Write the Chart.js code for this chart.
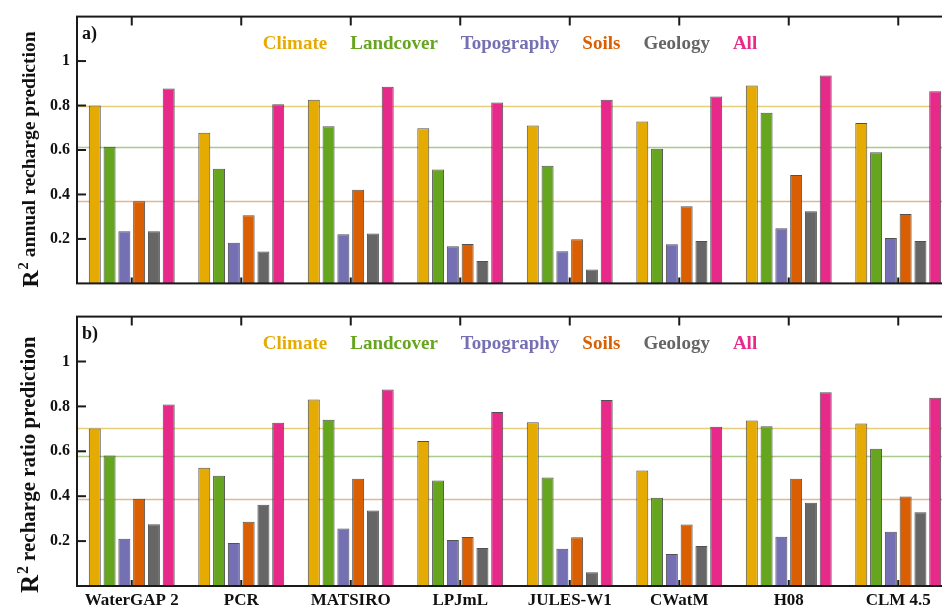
<!DOCTYPE html>
<html>
<head>
<meta charset="utf-8">
<script src="https://cdn.jsdelivr.net/npm/chart.js@4.4.1/dist/chart.umd.min.js"></script>
<style>
    html, body { margin: 0; padding: 0; background: #fff; overflow: hidden; }
    #wrap { width: 953px; }
    .panel { position: relative; width: 953px; }
    #panelA { height: 300px; }
    #panelB { height: 309px; }
</style>
</head>
<body>
<div id="wrap">
    <div class="panel" id="panelA"><canvas id="graficoA"></canvas></div>
    <div class="panel" id="panelB"><canvas id="graficoB"></canvas></div>
</div>
<script>
// modelos e preditores
const models = ['WaterGAP 2', 'PCR', 'MATSIRO', 'LPJmL', 'JULES-W1', 'CWatM', 'H08', 'CLM 4.5'];
const predictors = ['Climate', 'Landcover', 'Topography', 'Soils', 'Geology', 'All'];
const yTicks = [0.2, 0.4, 0.6, 0.8, 1];

// a) R2 annual recharge prediction
const annualClimate    = [0.80, 0.678, 0.826, 0.698, 0.710, 0.728, 0.890, 0.721];
const annualLandcover  = [0.615, 0.516, 0.707, 0.512, 0.529, 0.606, 0.768, 0.590];
const annualTopography = [0.234, 0.183, 0.221, 0.167, 0.145, 0.176, 0.248, 0.204];
const annualSoils      = [0.369, 0.307, 0.421, 0.177, 0.199, 0.347, 0.488, 0.312];
const annualGeology    = [0.234, 0.143, 0.225, 0.101, 0.062, 0.191, 0.325, 0.191];
const annualAll        = [0.877, 0.806, 0.884, 0.814, 0.826, 0.841, 0.935, 0.864];

// b) R2 recharge ratio prediction
const ratioClimate    = [0.702, 0.527, 0.831, 0.646, 0.729, 0.514, 0.737, 0.724];
const ratioLandcover  = [0.581, 0.491, 0.741, 0.470, 0.483, 0.393, 0.712, 0.611];
const ratioTopography = [0.210, 0.191, 0.256, 0.205, 0.166, 0.143, 0.219, 0.242];
const ratioSoils      = [0.389, 0.286, 0.478, 0.218, 0.217, 0.274, 0.478, 0.399];
const ratioGeology    = [0.275, 0.362, 0.336, 0.169, 0.061, 0.178, 0.371, 0.328];
const ratioAll        = [0.808, 0.727, 0.875, 0.775, 0.829, 0.709, 0.863, 0.838];

const colors = ['#E6AB02', '#66A61E', '#7570B3', '#D95F02', '#666666', '#E7298A'];
const SERIF = '"Liberation Serif", "Times New Roman", serif';

// linhas, rotulos e moldura desenhados por cima do grafico
const panelDecor = {
    id: 'panelDecor',
    beforeDatasetsDraw(chart, args, opts) {
        const ctx = chart.ctx;
        const area = chart.chartArea;
        const y = chart.scales.y;
        ctx.save();
        opts.refLevels.forEach((v, i) => {
            const py = Math.round(y.getPixelForValue(v)) + 0.5;
            ctx.strokeStyle = opts.refColors[i];
            ctx.lineWidth = 1.5;
            ctx.beginPath();
            ctx.moveTo(area.left, py);
            ctx.lineTo(area.right, py);
            ctx.stroke();
        });
        ctx.restore();
    },
    afterDraw(chart, args, opts) {
        const ctx = chart.ctx;
        const area = chart.chartArea;
        const x = chart.scales.x;
        const y = chart.scales.y;
        ctx.save();

        // moldura
        ctx.strokeStyle = '#1a1a1a';
        ctx.lineWidth = 2;
        ctx.strokeRect(area.left, area.top, area.right - area.left, area.bottom - area.top);

        // ticks para dentro
        ctx.lineWidth = 2;
        models.forEach((m, i) => {
            const px = x.getPixelForValue(i);
            ctx.beginPath();
            ctx.moveTo(px, area.top);
            ctx.lineTo(px, area.top + 9);
            ctx.moveTo(px, area.bottom);
            ctx.lineTo(px, area.bottom - 6);
            ctx.stroke();
        });
        yTicks.forEach((v) => {
            const py = y.getPixelForValue(v);
            ctx.beginPath();
            ctx.moveTo(area.left, py);
            ctx.lineTo(area.left + 9, py);
            ctx.stroke();
        });

        // letra do painel
        ctx.fillStyle = '#111';
        ctx.font = 'bold 18px ' + SERIF;
        ctx.textAlign = 'left';
        ctx.textBaseline = 'alphabetic';
        ctx.fillText(opts.letter, area.left + 5, area.top + 22);

        // legenda em texto colorido
        ctx.font = 'bold 19px ' + SERIF;
        const gap = 23;
        const widths = predictors.map((p) => ctx.measureText(p).width);
        const total = widths.reduce((a, b) => a + b, 0) + gap * (predictors.length - 1);
        let lx = (area.left + area.right) / 2 - total / 2 - 5;
        predictors.forEach((p, i) => {
            ctx.fillStyle = colors[i];
            ctx.fillText(p, lx, area.top + 32);
            lx += widths[i] + gap;
        });

        // titulo do eixo y com R²
        const fs = opts.titleSize;
        ctx.translate(30, area.bottom + opts.titleShift);
        ctx.rotate(-Math.PI / 2);
        ctx.fillStyle = '#111';
        ctx.textBaseline = 'middle';
        let tx = 0;
        ctx.font = 'bold ' + (fs + 4) + 'px ' + SERIF;
        ctx.fillText('R', tx, 2);
        tx += ctx.measureText('R').width;
        ctx.font = 'bold ' + (fs - 5) + 'px ' + SERIF;
        ctx.fillText('2', tx + 1, -6);
        tx += ctx.measureText('2').width + 6;
        ctx.font = 'bold ' + fs + 'px ' + SERIF;
        ctx.fillText(opts.title, tx, 0);
        ctx.restore();
    }
};

function montarDatasets(series) {
    return predictors.map((p, i) => ({
        label: p,
        data: series[i],
        backgroundColor: colors[i],
        borderColor: 'rgba(50,50,50,0.85)',
        borderWidth: 1,
        borderSkipped: 'bottom',
        categoryPercentage: 0.81,
        barPercentage: 0.81
    }));
}

function criarPainel(canvasId, series, cfg) {
    const ctx = document.getElementById(canvasId).getContext('2d');
    return new Chart(ctx, {
        type: 'bar',
        data: {
            labels: models,
            datasets: montarDatasets(series)
        },
        options: {
            responsive: true,
            maintainAspectRatio: false,
            animation: false,
            layout: { padding: { top: cfg.padTop, left: 0, right: 0, bottom: 0 } },
            scales: {
                x: {
                    grid: { display: false, drawTicks: false },
                    border: { display: false },
                    ticks: {
                        display: cfg.showLabels,
                        color: '#111',
                        padding: 4,
                        maxRotation: 0,
                        font: { family: SERIF, size: 17, weight: 'bold' }
                    },
                    afterFit: (scale) => { scale.height = cfg.xHeight; }
                },
                y: {
                    min: 0,
                    max: 1.2,
                    grid: { display: false, drawTicks: false },
                    border: { display: false },
                    ticks: {
                        stepSize: 0.2,
                        color: '#111',
                        padding: 7,
                        font: { family: SERIF, size: 16, weight: 'bold' },
                        callback: (v) => (yTicks.some((t) => Math.abs(t - v) < 1e-6) ? String(Math.round(v * 10) / 10) : '')
                    },
                    afterFit: (scale) => { scale.width = 77; }
                }
            },
            plugins: {
                legend: { display: false },
                tooltip: { enabled: false },
                panelDecor: {
                    letter: cfg.letter,
                    title: cfg.title,
                    titleSize: cfg.titleSize,
                    titleShift: cfg.titleShift,
                    refLevels: [series[0][0], series[1][0], series[3][0]],
                    refColors: ['rgba(222,190,80,0.75)', 'rgba(140,185,100,0.75)', 'rgba(215,160,110,0.75)']
                }
            }
        },
        plugins: [panelDecor]
    });
}

document.addEventListener('DOMContentLoaded', function () {
    criarPainel('graficoA',
        [annualClimate, annualLandcover, annualTopography, annualSoils, annualGeology, annualAll],
        { letter: 'a)', title: 'annual recharge prediction', titleSize: 19.5, padTop: 13, xHeight: 12, showLabels: false, titleShift: 4 });
    criarPainel('graficoB',
        [ratioClimate, ratioLandcover, ratioTopography, ratioSoils, ratioGeology, ratioAll],
        { letter: 'b)', title: 'recharge ratio prediction', titleSize: 21, padTop: 10, xHeight: 23, showLabels: true, titleShift: 7 });
});
</script>
</body>
</html>
